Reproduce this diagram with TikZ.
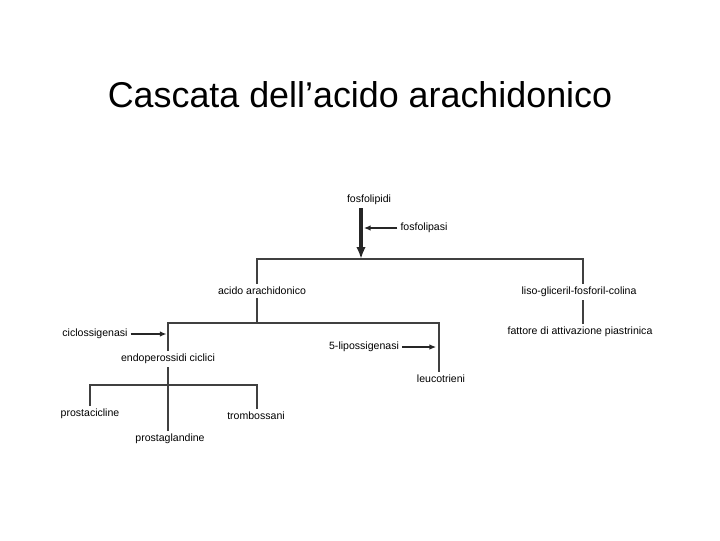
\documentclass[tikz,border=0pt]{standalone}
\usepackage{fontspec}
\setmainfont{Liberation Sans}
\usepackage{tikz}
\usetikzlibrary{positioning, arrows.meta}

\begin{document}
\begin{tikzpicture}[
  x=0.025cm, y=-0.025cm,
  lab/.style={font=\fontsize{7.5}{9}\selectfont, inner sep=2pt},
  titolo/.style={font=\fontsize{25.5}{30}\selectfont},
  branch/.style={line width=1.1pt, draw=black!75},
  trunk/.style={-{Latex[length=3mm, width=2.4mm]}, line width=2.2pt, draw=black!85},
  enz/.style={-{Latex[length=1.7mm, width=1.4mm]}, line width=1pt, draw=black!85}
]
\useasboundingbox (0,0) rectangle (720,540);
\node[titolo] (tit) at (360,95) {Cascata dell’acido arachidonico};
% --- fosfolipidi ---
\node[lab] (fl) at (369,200) {fosfolipidi};
\node[lab] (fpasi) at (424,228) {fosfolipasi};
\coordinate (top) at (361,259);
\draw[trunk] (fl.south -| top) -- (top);
\draw[enz, shorten >=2pt] (fpasi) -- (fpasi -| top);
% --- primo livello ---
\node[lab] (aa) at (262,291) {acido arachidonico};
\node[lab] (lg) at (579,292) {liso-gliceril-fosforil-colina};
\node[lab] (paf) at (580,332) {fattore di attivazione piastrinica};
\coordinate (aaL) at (257,259);
\coordinate (lgR) at (583,259);
\draw[branch] (aa.north -| aaL) -- (aaL) -- (lgR) -- (lg.north -| lgR);
\draw[branch] (lg.south -| lgR) -- (paf.north -| lgR);
% --- ciclossigenasi / lipossigenasi ---
\node[lab] (cox) at (95,334) {ciclossigenasi};
\node[lab] (endo) at (168,359) {endoperossidi ciclici};
\node[lab] (lox) at (364,347) {5-lipossigenasi};
\node[lab] (lt) at (441,379) {leucotrieni};
\coordinate (cx) at (168,323);
\coordinate (ltR) at (439,323);
\draw[branch, line width=1.6pt] (aa.south -| aaL) -- (aaL |- cx);
\draw[branch, line width=1.6pt] (endo.north -| cx) -- (cx) -- (ltR) -- (lt.north -| ltR);
\draw[enz, shorten >=1pt] (cox) -- (cox -| cx);
\draw[enz, shorten >=2pt] (lox) -- (lox -| ltR);
% --- prodotti finali ---
\node[lab] (pgi) at (90,414) {prostacicline};
\node[lab] (tx) at (256,416) {trombossani};
\node[lab] (pg) at (170,439) {prostaglandine};
\coordinate (pgiL) at (90,385);
\coordinate (txR) at (257,385);
\draw[branch] (endo.south -| cx) -- (pg.north -| cx);
\draw[branch, line width=1.6pt] (pgi.north -| pgiL) -- (pgiL) -- (txR) -- (tx.north -| txR);
\end{tikzpicture}
\end{document}
